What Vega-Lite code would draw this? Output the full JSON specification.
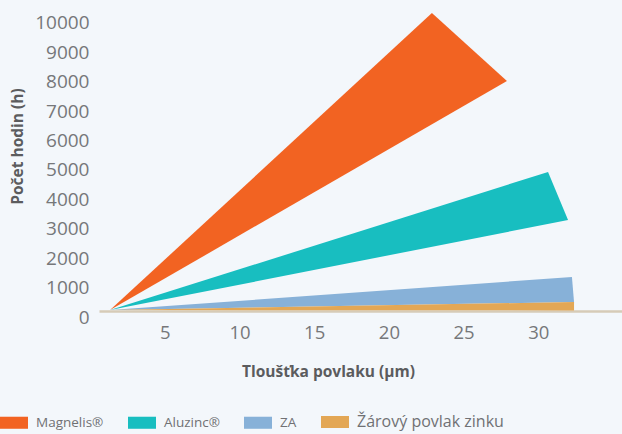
{
  "$schema": "https://vega.github.io/schema/vega-lite/v6.json",
  "width": 523,
  "height": 306,
  "autosize": {"type": "none"},
  "padding": {"left": 99, "top": 5, "right": 0, "bottom": 123},
  "background": "#f3f7fb",
  "config": {
    "view": {"stroke": null},
    "font": "Open Sans"
  },
  "data": {
    "values": [
      {"s": "Magnelis®", "x": 1.34, "y": 30, "o": 1},
      {"s": "Magnelis®", "x": 22.88, "y": 10136, "o": 2},
      {"s": "Magnelis®", "x": 27.9, "y": 7823, "o": 3},
      {"s": "Aluzinc®", "x": 1.34, "y": 30, "o": 1},
      {"s": "Aluzinc®", "x": 30.65, "y": 4728, "o": 2},
      {"s": "Aluzinc®", "x": 31.99, "y": 3095, "o": 3},
      {"s": "ZA", "x": 1.34, "y": 30, "o": 1},
      {"s": "ZA", "x": 32.25, "y": 1156, "o": 2},
      {"s": "ZA", "x": 32.39, "y": 306, "o": 3},
      {"s": "Žárový povlak zinku", "x": 1.34, "y": 30, "o": 1},
      {"s": "Žárový povlak zinku", "x": 32.39, "y": 306, "o": 2},
      {"s": "Žárový povlak zinku", "x": 32.39, "y": 20, "o": 3}
    ]
  },
  "mark": {"type": "line", "filled": true, "interpolate": "linear-closed", "clip": false},
  "encoding": {
    "x": {
      "field": "x",
      "type": "quantitative",
      "scale": {"domain": [0.6, 35.6], "nice": false, "zero": false},
      "axis": {
        "values": [5, 10, 15, 20, 25, 30],
        "title": "Tloušťka povlaku (µm)",
        "grid": false,
        "ticks": false,
        "domainColor": "#d6cbb7",
        "domainWidth": 2.5,
        "labelFontSize": 18.5,
        "labelColor": "#76777a",
        "labelPadding": 12,
        "labelFont": "Open Sans",
        "titleFont": "Open Sans",
        "titleFontSize": 15.5,
        "titleFontWeight": "bold",
        "titleColor": "#5b5c5e",
        "titleX": 229,
        "titleY": 60,
        "titleAlign": "center",
        "titleBaseline": "middle"
      }
    },
    "y": {
      "field": "y",
      "type": "quantitative",
      "scale": {"domain": [0, 10408], "nice": false},
      "axis": {
        "values": [0, 1000, 2000, 3000, 4000, 5000, 6000, 7000, 8000, 9000, 10000],
        "format": "d",
        "title": "Počet hodin (h)",
        "grid": false,
        "ticks": false,
        "domain": false,
        "labelFontSize": 19,
        "labelColor": "#76777a",
        "labelPadding": 10,
        "labelOffset": 6,
        "labelFont": "Open Sans",
        "titleFont": "Open Sans",
        "titleFontSize": 15.5,
        "titleFontWeight": "bold",
        "titleColor": "#5b5c5e",
        "titleX": -82,
        "titleY": 141,
        "titleAngle": -90,
        "titleAlign": "center",
        "titleBaseline": "middle"
      }
    },
    "color": {
      "field": "s",
      "type": "nominal",
      "scale": {
        "domain": ["Magnelis®", "Aluzinc®", "ZA", "Žárový povlak zinku"],
        "range": ["#f26322", "#18bec0", "#87b1d8", "#e3a755"]
      },
      "legend": {
        "title": null,
        "orient": "none",
        "direction": "horizontal",
        "legendX": -99,
        "legendY": 403,
        "symbolType": "M-1,-0.43H1V0.43H-1Z",
        "symbolSize": 784,
        "symbolStrokeWidth": 0,
        "labelOffset": 8,
        "columnPadding": 24,
        "labelFont": "Open Sans",
        "labelFontSize": 13.5,
        "labelColor": "#707174",
        "labelLimit": 300,
        "encode": {
          "labels": {
            "update": {
              "fontSize": {"signal": "datum.label === 'Žárový povlak zinku' ? 16 : 13.5"}
            }
          }
        }
      }
    },
    "order": {"field": "o", "type": "quantitative"}
  }
}
